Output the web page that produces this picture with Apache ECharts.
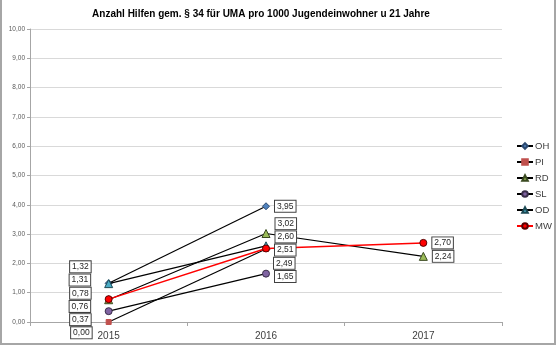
<!DOCTYPE html>
<html>
<head>
<meta charset="utf-8">
<script src="https://cdn.jsdelivr.net/npm/echarts@6/dist/echarts.min.js"></script>
<style>
  html, body { margin: 0; padding: 0; background: #fff; }
  #chart { width: 557px; height: 347px; }
</style>
</head>
<body>
<div id="chart"></div>
<script>
// Years on the category axis
const years = ['2015', '2016', '2017'];

// Hilfen gem. § 34 für UMA pro 1000 Jugendeinwohner u 21 Jahre
const seriesNames = ['OH', 'PI', 'RD', 'SL', 'OD', 'MW'];
const valuesOH = [1.32, 3.95, null];
const valuesPI = [0.00, 2.49, null];
const valuesRD = [0.76, 3.02, 2.24];
const valuesSL = [0.37, 1.65, null];
const valuesOD = [1.31, 2.60, null];
const valuesMW = [0.78, 2.51, 2.70];

// Value axis ticks
const yMin = 0;
const yMax = 10;
const yStep = 1;

const allValues = [valuesOH, valuesPI, valuesRD, valuesSL, valuesOD, valuesMW];

const markerStyles = [
  { color: '#4F81BD', symbol: 'diamond', size: 7, border: '#2c4a70' },
  { color: '#C0504D', symbol: 'rect', size: 5, border: '#C0504D' },
  { color: '#9BBB59', symbol: 'triangle', size: 8, border: '#3a4a20' },
  { color: '#8064A2', symbol: 'circle', size: 7, border: '#3a2d4a' },
  { color: '#4BACC6', symbol: 'triangle', size: 8, border: '#1d4a55' },
  { color: '#FF0000', symbol: 'circle', size: 7, border: '#5a0000' }
];

const fmt = v => v.toFixed(2).replace('.', ',');
const FONT = "'Liberation Sans', Arial, sans-serif";

const chart = echarts.init(document.getElementById('chart'), null, { renderer: 'canvas' });

function labelFor(catIdx, dy) {
  const first = catIdx === 0;
  return {
    show: true,
    position: first ? 'left' : 'right',
    distance: first ? 14 : 5,
    offset: [0, dy],
    formatter: p => fmt(p.value),
    fontFamily: FONT,
    fontSize: 8.5,
    lineHeight: 10,
    color: '#262626',
    backgroundColor: '#ffffff',
    borderColor: '#404040',
    borderWidth: 1,
    padding: [1, 2, 0, 2]
  };
}

function buildSeries(offsets) {
  return seriesNames.map((name, s) => {
    const m = markerStyles[s];
    return {
      name: name,
      type: 'line',
      symbol: m.symbol,
      symbolSize: m.size,
      showAllSymbol: true,
      connectNulls: false,
      lineStyle: { color: name === 'MW' ? '#FF0000' : '#000000', width: name === 'MW' ? 1.5 : 1.2 },
      itemStyle: { color: m.color, borderColor: m.border, borderWidth: 1 },
      emphasis: { disabled: true },
      z: 2 + s,
      data: allValues[s].map((v, i) => v === null ? null : {
        value: v,
        label: labelFor(i, offsets ? offsets[s][i] : 0)
      })
    };
  });
}

const option = {
  animation: false,
  backgroundColor: '#ffffff',
  graphic: [
    {
      type: 'rect',
      shape: { x: 1, y: -2, width: 554, height: 346 },
      style: { fill: 'none', stroke: '#A6A6A6', lineWidth: 2 },
      silent: true,
      z: 100
    },
    {
      type: 'text',
      x: 261,
      y: 14,
      style: {
        text: 'Anzahl Hilfen gem. § 34 für UMA pro 1000 Jugendeinwohner u 21 Jahre',
        fontFamily: FONT,
        fontWeight: 'bold',
        fontSize: 10,
        fill: '#000000',
        align: 'center',
        verticalAlign: 'middle'
      },
      silent: true
    }
  ],
  grid: { left: 30, right: 55, top: 29, bottom: 25, containLabel: false },
  legend: {
    orient: 'vertical',
    left: 511,
    top: 136,
    itemWidth: 16,
    itemHeight: 7,
    itemGap: 6,
    textStyle: { fontFamily: FONT, fontSize: 9.5, color: '#404040', padding: [0, 0, 0, -3] },
    data: seriesNames
  },
  xAxis: {
    type: 'category',
    data: years,
    boundaryGap: true,
    axisLine: { lineStyle: { color: '#A6A6A6' } },
    axisTick: { show: true, length: 4, lineStyle: { color: '#A6A6A6' } },
    axisLabel: { fontFamily: FONT, fontSize: 10, color: '#404040', margin: 9 }
  },
  yAxis: {
    type: 'value',
    min: yMin,
    max: yMax,
    interval: yStep,
    axisLine: { show: true, lineStyle: { color: '#A6A6A6' } },
    axisTick: { show: true, length: 3, lineStyle: { color: '#A6A6A6' } },
    splitLine: { lineStyle: { color: '#D9D9D9', width: 1 } },
    axisLabel: { fontFamily: FONT, fontSize: 6.5, color: '#595959', margin: 5, formatter: v => fmt(v) }
  },
  series: buildSeries(null)
};

chart.setOption(option);

// Stack the value boxes of each year so they do not overlap, keeping each group centred on its points
function stackLabels() {
  const GAP = 13.2;
  const offsets = seriesNames.map(() => years.map(() => 0));
  years.forEach((y, i) => {
    const items = [];
    allValues.forEach((vals, s) => {
      if (vals[i] === null) return;
      const py = chart.convertToPixel({ gridIndex: 0 }, [i, vals[i]])[1];
      items.push({ s: s, v: vals[i], py: py });
    });
    items.sort((a, b) => (b.v - a.v) || (a.s - b.s));
    const blocks = [];
    items.forEach(it => {
      let blk = { items: [it], start: it.py };
      while (blocks.length) {
        const prev = blocks[blocks.length - 1];
        if (prev.start + prev.items.length * GAP > blk.start) {
          blocks.pop();
          const merged = prev.items.concat(blk.items);
          let sum = 0;
          merged.forEach((m, k) => { sum += m.py - k * GAP; });
          blk = { items: merged, start: sum / merged.length };
        } else break;
      }
      blocks.push(blk);
    });
    blocks.forEach(b => b.items.forEach((m, k) => {
      offsets[m.s][i] = b.start + k * GAP - m.py;
    }));
  });
  chart.setOption({ series: buildSeries(offsets) });
}
stackLabels();
</script>
</body>
</html>
